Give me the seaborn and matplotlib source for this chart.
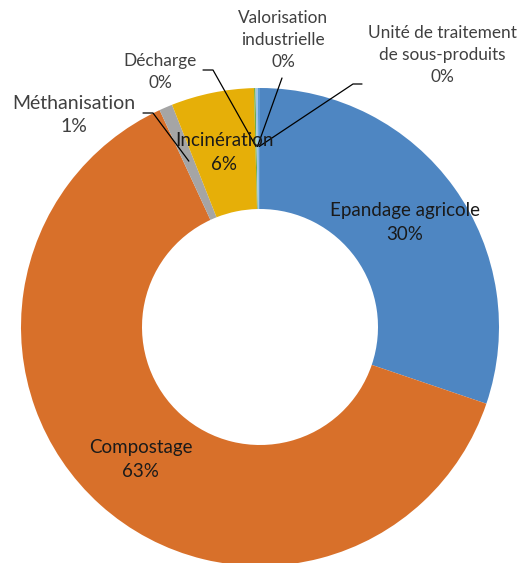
import numpy as np
import matplotlib
matplotlib.use("Agg")
import matplotlib.pyplot as plt
import seaborn as sns

# Destination des sous-produits (parts en %), dans l'ordre horaire depuis midi
categories = ["Epandage agricole", "Compostage", "Méthanisation", "Incinération",
              "Décharge", "Valorisation industrielle", "Unité de traitement de sous-produits"]
values = [30.2, 62.9, 0.9, 5.6, 0.1, 0.15, 0.15]
colors = ["#4E86C2", "#D8702A", "#A5A5A5", "#E6AF08", "#70AD47", "#9DC3E6", "#5B9BD5"]

sns.set_theme(style="white")
plt.rcParams["font.family"] = ["Lato", "DejaVu Sans"]

W, H = 520, 563
fig = plt.figure(figsize=(W / 100, H / 100), dpi=100)
ax = fig.add_axes([0, 0, 1, 1])

cx, cy = 260, H - 327
R, r_in = 239, 118

wedges, _ = ax.pie(values, colors=colors, radius=R, center=(cx, cy), startangle=90,
                   counterclock=False, wedgeprops=dict(width=R - r_in, linewidth=0),
                   frame=True)
ax.set_xlim(0, W)
ax.set_ylim(0, H)
ax.set_aspect("equal")
ax.set_axis_off()

r_mid = (R + r_in) / 2


def mid_point(w, rad=r_mid):
    ang = np.deg2rad((w.theta1 + w.theta2) / 2)
    return cx + rad * np.cos(ang), cy + rad * np.sin(ang)


def lab(i):
    return f"{categories[i]}\n{round(values[i]):d}%"


txt_in = dict(ha="center", va="center", fontsize=13.5, color="#1a1a1a", linespacing=1.5)

# Etiquettes placées dans l'anneau
for i in (0, 1, 3):
    x, y = mid_point(wedges[i])
    ax.text(x, y, lab(i), **txt_in)

# Etiquettes extérieures avec lignes de rappel
outer = {
    2: ((74, H - 115), 14, 1.45, [(143, H - 113), (153, H - 113)]),
    4: ((160, H - 72), 12.4, 1.4, [(203, H - 70), (213, H - 70)]),
    5: ((283, H - 40), 12.4, 1.45, [(282, H - 78)]),
    6: ((442, H - 55), 12.4, 1.45, [(362, H - 84), (353, H - 84)]),
}
for i, ((tx, ty), fs, ls, pts) in outer.items():
    label = "Valorisation\nindustrielle\n0%" if i == 5 else (
        "Unité de traitement\nde sous-produits\n0%" if i == 6 else lab(i))
    ax.text(tx, ty, label, ha="center", va="center", fontsize=fs, color="#404040",
            linespacing=ls)
    end = mid_point(wedges[i], rad=r_mid + 2)
    xs = [p[0] for p in pts] + [end[0]]
    ys = [p[1] for p in pts] + [end[1]]
    ax.plot(xs, ys, color="black", linewidth=0.9)

fig.savefig("out.png", dpi=100)
